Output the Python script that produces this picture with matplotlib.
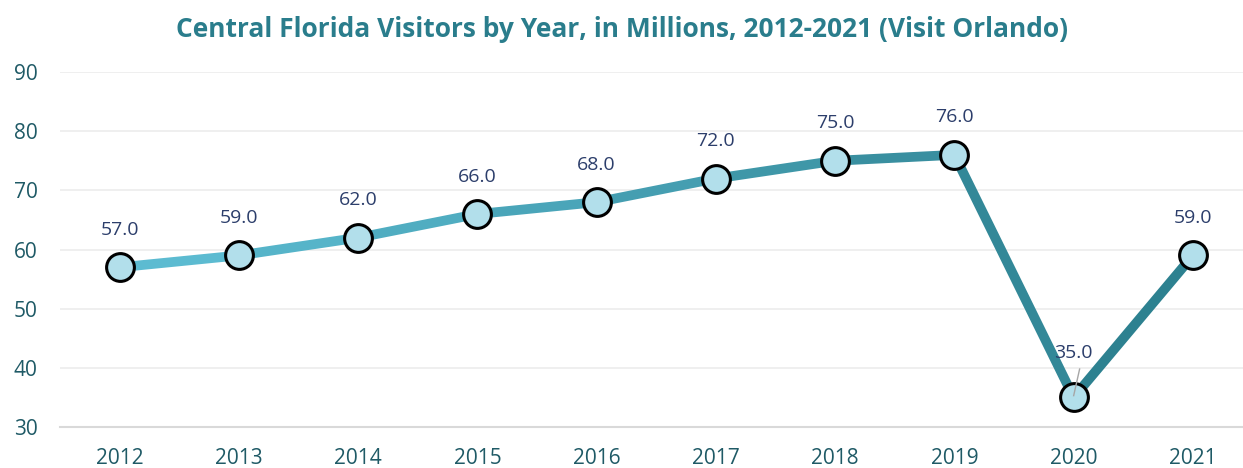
import numpy as np
import matplotlib.pyplot as plt
import matplotlib.colors as mcolors

# Visitor counts in millions (Visit Orlando)
years = ['2012', '2013', '2014', '2015', '2016', '2017', '2018', '2019', '2020', '2021']
visitors = [57.0, 59.0, 62.0, 66.0, 68.0, 72.0, 75.0, 76.0, 35.0, 59.0]

plt.rcParams['font.family'] = ['Open Sans', 'DejaVu Sans']

fig = plt.figure(figsize=(12.43, 4.68), dpi=100)
ax = fig.add_axes([0.0483, 0.0876, 0.9517, 0.7585])

x = np.arange(len(years))

# line colour goes from light cyan to dark teal
c_start = np.array(mcolors.to_rgb('#5fbfd5'))
c_end = np.array(mcolors.to_rgb('#2a7d8c'))
for i in range(len(x) - 1):
    t = (i + 0.5) / (len(x) - 1)
    col = c_start * (1 - t) + c_end * t
    ax.plot(x[i:i + 2], visitors[i:i + 2], color=col, lw=7,
            solid_capstyle='round', solid_joinstyle='round', zorder=2)

ax.plot(x, visitors, ls='none', marker='o', ms=20, mfc='#b2dfeb',
        mec='black', mew=2.2, zorder=3)

# data labels
for i, v in enumerate(visitors):
    if years[i] == '2020':
        ax.annotate(f'{v:.1f}', (x[i], v), xytext=(0, 32), textcoords='offset points',
                    ha='center', va='center', fontsize=14, color='#2c3e6b', zorder=4)
        ax.plot([x[i], x[i] + 0.05], [v + 0.3, v + 4.8], color='#a6a6a6', lw=1, zorder=4)
    else:
        ax.annotate(f'{v:.1f}', (x[i], v), xytext=(0, 27), textcoords='offset points',
                    ha='center', va='center', fontsize=14, color='#2c3e6b', zorder=4)

ax.set_xlim(-0.5, 9.42)
ax.set_ylim(30, 90)
ax.set_yticks(range(30, 91, 10))
ax.set_xticks(x)
ax.set_xticklabels(years)
ax.tick_params(axis='both', length=0, labelsize=15, labelcolor='#1f5a66')
ax.tick_params(axis='x', pad=15)
ax.tick_params(axis='y', pad=16)
ax.grid(axis='y', color='#ececec', lw=1.2)
ax.set_axisbelow(True)
for s in ['top', 'right', 'left']:
    ax.spines[s].set_visible(False)
ax.spines['bottom'].set_color('#d9d9d9')
ax.spines['bottom'].set_linewidth(1.5)

fig.text(0.5, 0.936, 'Central Florida Visitors by Year, in Millions, 2012-2021 (Visit Orlando)',
         ha='center', va='center', fontsize=19, fontweight='bold', color='#2a7d8c')

fig.savefig('out.png', dpi=100)
